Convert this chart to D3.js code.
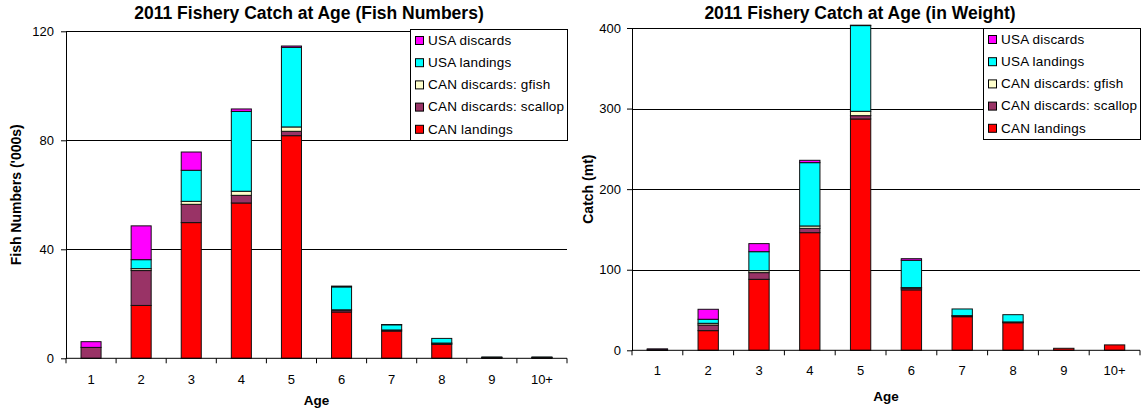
<!DOCTYPE html>
<html>
<head>
<meta charset="utf-8">
<script src="https://cdn.jsdelivr.net/npm/d3@7"></script>
<style>
  html, body { margin: 0; padding: 0; background: #fff; }
  svg { display: block; font-family: Arial, "Liberation Sans", sans-serif; }
</style>
</head>
<body>
<svg id="chart" width="1142" height="413"></svg>
<script>
// Age classes on the x axis
const ages = ["1", "2", "3", "4", "5", "6", "7", "8", "9", "10+"];

// Stack order, bottom to top
const seriesKeys = ["CAN landings", "CAN discards: scallop", "CAN discards: gfish", "USA landings", "USA discards"];
const seriesColors = ["#ff0000", "#993366", "#ffffcc", "#00ffff", "#ff00ff"];

// Catch at age in numbers ('000s)
const canLandingsNum = [0.0, 19.4, 49.8, 57.0, 81.7, 17.0, 10.0, 5.1, 0.2, 0.2];
const canScallopNum  = [4.0, 12.8, 6.7, 2.8, 1.6, 0.6, 0.4, 0.4, 0.1, 0.1];
const canGfishNum    = [0.0, 0.7, 1.1, 1.5, 1.6, 0.2, 0.0, 0.1, 0.0, 0.0];
const usaLandingsNum = [0.0, 3.3, 11.4, 29.3, 29.2, 8.4, 1.9, 1.7, 0.2, 0.2];
const usaDiscardsNum = [2.1, 12.4, 6.7, 0.9, 0.5, 0.3, 0.1, 0.0, 0.0, 0.0];

// Catch at age in weight (mt)
const canLandingsWt = [0.3, 24.4, 88.1, 146.0, 287.1, 75.0, 41.7, 34.2, 2.5, 6.7];
const canScallopWt  = [1.0, 7.0, 8.3, 5.4, 4.1, 2.0, 1.0, 0.8, 0.0, 0.0];
const canGfishWt    = [0.0, 2.1, 2.5, 2.9, 5.4, 0.8, 0.3, 0.2, 0.0, 0.0];
const usaLandingsWt = [0.0, 5.0, 23.5, 78.6, 106.4, 33.9, 8.3, 9.0, 0.0, 0.0];
const usaDiscardsWt = [0.4, 12.4, 10.0, 2.9, 0.5, 2.0, 0.0, 0.0, 0.0, 0.0];

// Y axis ticks
const numTicks = [0, 40, 80, 120];
const wtTicks = [0, 100, 200, 300, 400];

const svg = d3.select("#chart");

function buildRows(cols) {
  return ages.map((a, i) => {
    const row = { age: a };
    seriesKeys.forEach((k, j) => { row[k] = cols[j][i]; });
    return row;
  });
}

function drawPanel(cfg) {
  const g = svg.append("g");
  const rows = buildRows(cfg.cols);

  const x = d3.scaleBand().domain(ages).range([cfg.left, cfg.right])
    .paddingInner(0.6).paddingOuter(0.3);
  const y = d3.scaleLinear().domain([0, d3.max(cfg.ticks)]).range([cfg.bottom, cfg.top]);

  // horizontal gridlines
  g.append("g").selectAll("line")
    .data(cfg.ticks.filter(t => t > 0))
    .join("line")
    .attr("x1", cfg.left).attr("x2", cfg.right)
    .attr("y1", d => Math.round(y(d)) + 0.5).attr("y2", d => Math.round(y(d)) + 0.5)
    .attr("stroke", "#000").attr("stroke-width", 1);

  // stacked bars
  const stacked = d3.stack().keys(seriesKeys)(rows);
  g.append("g").selectAll("g")
    .data(stacked)
    .join("g")
    .attr("fill", (d, i) => seriesColors[i])
    .selectAll("rect")
    .data(d => d.filter(s => s[1] - s[0] > 0))
    .join("rect")
    .attr("x", d => x(d.data.age))
    .attr("width", x.bandwidth())
    .attr("y", d => y(d[1]))
    .attr("height", d => y(d[0]) - y(d[1]))
    .attr("stroke", "#111").attr("stroke-width", 1);

  // y axis
  const yAxis = g.append("g")
    .attr("transform", `translate(${cfg.left},0)`)
    .call(d3.axisLeft(y).tickValues(cfg.ticks).tickSize(5).tickSizeOuter(0).tickPadding(cfg.yPad));
  yAxis.select(".domain").attr("stroke", "#000");
  yAxis.selectAll(".tick line").attr("stroke", "#000");
  yAxis.selectAll("text").attr("font-size", 13).attr("font-family", null).attr("fill", "#000");

  // x axis: baseline, ticks between categories, centred labels
  const step = x.step();
  const edges = ages.map(a => x(a) + x.bandwidth() / 2 - step / 2).concat([cfg.right]);
  g.append("line")
    .attr("x1", cfg.left).attr("x2", cfg.right)
    .attr("y1", y(0)).attr("y2", y(0))
    .attr("stroke", "#000");
  g.append("g").selectAll("line")
    .data(edges)
    .join("line")
    .attr("x1", d => d).attr("x2", d => d)
    .attr("y1", y(0)).attr("y2", y(0) + 5)
    .attr("stroke", "#000");
  g.append("g").selectAll("text")
    .data(ages)
    .join("text")
    .attr("x", d => x(d) + x.bandwidth() / 2)
    .attr("y", y(0) + cfg.xLabelDy)
    .attr("text-anchor", "middle")
    .attr("font-size", 13)
    .text(d => d);

  // titles
  g.append("text")
    .attr("x", cfg.titleX).attr("y", cfg.titleY)
    .attr("text-anchor", "middle")
    .attr("font-size", 17.5).attr("font-weight", "bold")
    .text(cfg.title);
  g.append("text")
    .attr("x", (cfg.left + cfg.right) / 2).attr("y", cfg.xTitleY)
    .attr("text-anchor", "middle")
    .attr("font-size", 13.5).attr("font-weight", "bold")
    .text("Age");
  g.append("text")
    .attr("transform", `translate(${cfg.yTitleX},${(cfg.top + cfg.bottom) / 2}) rotate(-90)`)
    .attr("text-anchor", "middle")
    .attr("font-size", 14).attr("font-weight", "bold")
    .text(cfg.yTitle);

  // legend, top entry is the top of the stack
  const lg = g.append("g").attr("transform", `translate(${cfg.legend[0]},${cfg.legend[1]})`);
  lg.append("rect")
    .attr("x", 0.5).attr("y", 0.5)
    .attr("width", cfg.legend[2]).attr("height", cfg.legend[3])
    .attr("fill", "#fff").attr("stroke", "#000");
  const order = seriesKeys.map((k, i) => i).reverse();
  const item = lg.selectAll("g.item")
    .data(order)
    .join("g")
    .attr("class", "item")
    .attr("transform", (d, i) => `translate(0,${11 + i * 22.2})`);
  item.append("rect")
    .attr("x", 5.5).attr("y", -3.5).attr("width", 8).attr("height", 8)
    .attr("fill", d => seriesColors[d]).attr("stroke", "#000");
  item.append("text")
    .attr("x", 18).attr("y", 0).attr("dy", "0.35em")
    .attr("font-size", 13.5)
    .attr("letter-spacing", 0.2)
    .text(d => seriesKeys[d]);
}

drawPanel({
  cols: [canLandingsNum, canScallopNum, canGfishNum, usaLandingsNum, usaDiscardsNum],
  ticks: numTicks,
  left: 66, right: 567, top: 31.3, bottom: 358.3,
  yPad: 7, xLabelDy: 26, xTitleY: 405,
  title: "2011 Fishery Catch at Age (Fish Numbers)", titleX: 309, titleY: 19,
  yTitle: "Fish Numbers ('000s)", yTitleX: 20.5,
  legend: [410, 29, 157, 111]
});

drawPanel({
  cols: [canLandingsWt, canScallopWt, canGfishWt, usaLandingsWt, usaDiscardsWt],
  ticks: wtTicks,
  left: 632, right: 1140, top: 28, bottom: 350.3,
  yPad: 6, xLabelDy: 25, xTitleY: 400.5,
  title: "2011 Fishery Catch at Age (in Weight)", titleX: 860, titleY: 18.5,
  yTitle: "Catch (mt)", yTitleX: 592.5,
  legend: [983, 28, 157, 111]
});
</script>
</body>
</html>
